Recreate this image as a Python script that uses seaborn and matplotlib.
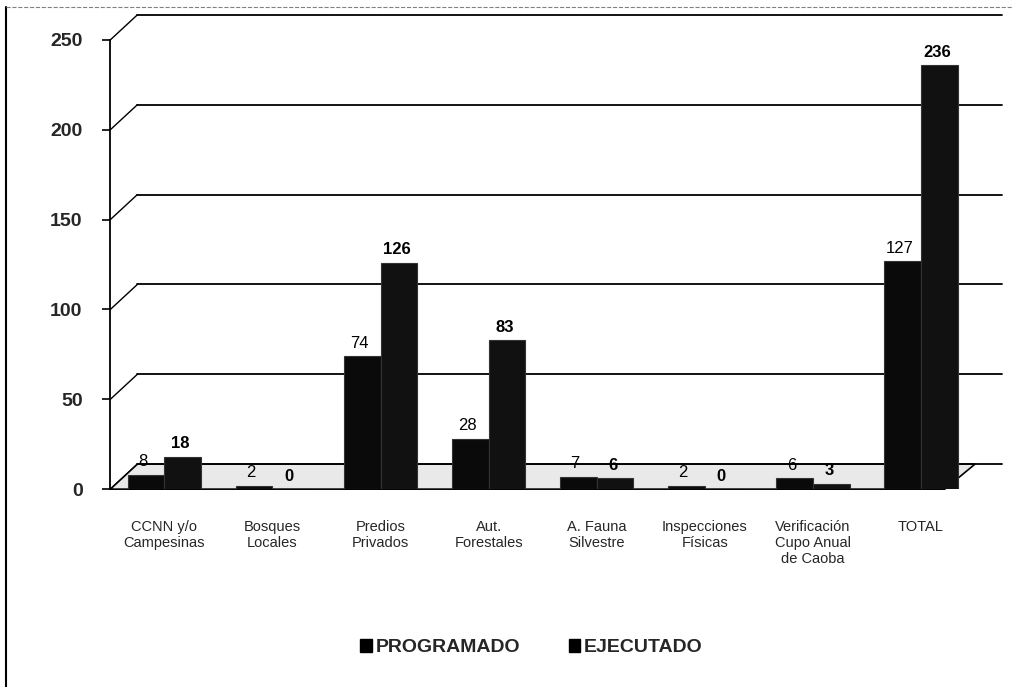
import numpy as np
import pandas as pd
import matplotlib
matplotlib.use("Agg")
import matplotlib.pyplot as plt
import matplotlib.transforms as mtransforms
from matplotlib.lines import Line2D
from matplotlib.patches import Patch, Polygon
import seaborn as sns

# Data
categories = ["CCNN y/o\nCampesinas", "Bosques\nLocales", "Predios\nPrivados",
              "Aut.\nForestales", "A. Fauna\nSilvestre", "Inspecciones\nFísicas",
              "Verificación\nCupo Anual\nde Caoba", "TOTAL"]
programado = [8, 2, 74, 28, 7, 2, 6, 127]
ejecutado = [18, 0, 126, 83, 6, 0, 3, 236]
series = ["PROGRAMADO", "EJECUTADO"]
y_ticks = [0, 50, 100, 150, 200, 250]

df = pd.DataFrame({
    "categoria": categories * 2,
    "serie": [series[0]] * len(categories) + [series[1]] * len(categories),
    "valor": programado + ejecutado,
})

sns.set_style("white")
plt.rcParams["font.family"] = ["Liberation Sans", "DejaVu Sans"]

fig = plt.figure(figsize=(10.22, 6.87), dpi=100)
ax = fig.add_axes([0.108, 0.288, 0.846, 0.654])

ax.set_ylim(0, 250)
ax.set_xlim(-0.55, len(categories) - 0.45)

# back-wall gridlines shifted up/right for the 3D look
dx_px, dy_px = 27, 25
shift = mtransforms.ScaledTranslation(dx_px / 100, dy_px / 100, fig.dpi_scale_trans)
dx_ax = dx_px / 1022 / 0.846
dy_ax = dy_px / 687 / 0.654
for t in y_ticks:
    ax.plot([0, 1], [t, t], color="black", lw=1.3, transform=ax.get_yaxis_transform() + shift,
            clip_on=False, zorder=0)
    ax.plot([0, dx_ax], [t, t + dy_ax * 250], color="black", lw=1.0,
            transform=ax.get_yaxis_transform(), clip_on=False, zorder=0)

# floor
floor = Polygon([[0, 0], [0.965, 0], [1.0, dy_ax], [dx_ax, dy_ax]],
                closed=True, facecolor="#e9e9e9", edgecolor="black", lw=1.2,
                transform=ax.transAxes, clip_on=False, zorder=0.5)
ax.add_patch(floor)

sns.barplot(data=df, x="categoria", y="valor", hue="serie", hue_order=series,
            palette=["#0a0a0a", "#111111"], width=0.68, gap=0, ax=ax, legend=False,
            edgecolor="#333333", linewidth=0.8, zorder=2)

# value labels
for i, cat in enumerate(categories):
    ax.text(i - 0.2, programado[i] + 3, str(programado[i]), ha="center", va="bottom",
            fontsize=12, color="black", zorder=5)
    ax.text(i + 0.15, ejecutado[i] + 3, str(ejecutado[i]), ha="center", va="bottom",
            fontsize=12, fontweight="bold", color="black", zorder=5)

ax.set_yticks(y_ticks)
ax.set_yticklabels([str(t) for t in y_ticks], fontsize=14, fontweight="bold")
ax.tick_params(axis="y", length=6, width=1.2, color="black", pad=14, direction="out", left=True)
ax.tick_params(axis="x", length=0, pad=22, labelsize=10.5)
ax.set_xlabel("")
ax.set_ylabel("")

for side in ["top", "right", "bottom"]:
    ax.spines[side].set_visible(False)
ax.spines["left"].set_color("black")
ax.spines["left"].set_linewidth(1.3)

handles = [Patch(facecolor="black", edgecolor="black", label=s) for s in series]
fig.legend(handles=handles, loc="center", bbox_to_anchor=(0.52, 0.057), ncol=2, frameon=False,
           prop={"size": 14, "weight": "bold"}, handlelength=0.6, handleheight=0.6,
           handletextpad=0.2, columnspacing=2.5)

# scan frame
fig.add_artist(Line2D([0.006, 0.006], [0, 0.99], color="black", lw=1.5, transform=fig.transFigure))
fig.add_artist(Line2D([0.006, 0.99], [0.99, 0.99], color="gray", lw=0.8, ls="--",
                      transform=fig.transFigure))

fig.savefig("out.png", dpi=100)
